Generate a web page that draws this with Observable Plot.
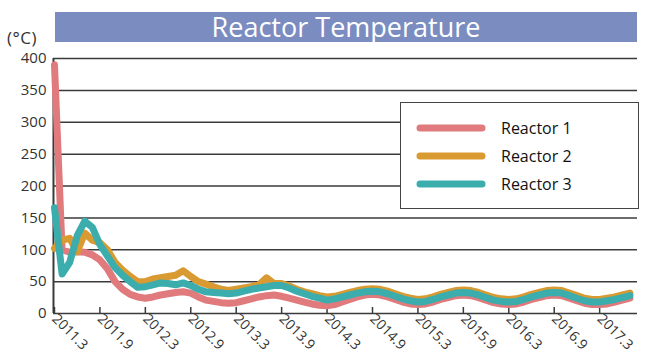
<!DOCTYPE html>
<html><head><meta charset="utf-8">
<script src="https://cdn.jsdelivr.net/npm/d3@7"></script>
<script src="https://cdn.jsdelivr.net/npm/@observablehq/plot@0.6"></script>
<style>
body{margin:0;background:#fff;}
#wrap{position:relative;width:650px;height:356px;font-family:"Open Sans",sans-serif;overflow:hidden;}
#title{position:absolute;left:55px;top:12px;width:582px;height:30px;background:#7b8cc1;color:#fff;font-size:27px;line-height:30px;text-align:center;}
#unit{position:absolute;left:7px;top:26px;font-size:17px;letter-spacing:0.5px;color:#333;}
#legend{position:absolute;left:400px;top:102px;width:237px;height:105px;background:#fff;border:1px solid #444;}
</style></head>
<body><div id="wrap"><div id="chart"></div><div id="title">Reactor Temperature</div><div id="unit">(°C)</div><div id="legend"></div></div>
<script>
const titleText = "Reactor Temperature";
const unitText = "(°C)";
const seriesNames = ["Reactor 1", "Reactor 2", "Reactor 3"];
const seriesColors = ["#e07a7c", "#d99a32", "#3badad"];
// months since March 2011
const months = [0,1,2,3,4,5,6,7,8,9,10,11,12,13,14,15,16,17,18,19,20,21,22,23,24,25,26,27,28,29,30,31,32,33,34,35,36,37,38,39,40,41,42,43,44,45,46,47,48,49,50,51,52,53,54,55,56,57,58,59,60,61,62,63,64,65,66,67,68,69,70,71,72,73,74,75,76];
const reactor1 = [390,100,96,97,96,92,84,70,50,38,30,26,24,26,29,31,33,34,32,26,21,19,17,16,17,20,23,26,28,29,27,24,21,18,15,13,12,14,18,22,26,29,30,29,26,22,18,15,14,15,18,22,25,28,29,28,25,21,17,15,14,15,18,22,25,28,29,28,24,20,16,14,14,15,18,21,24];
const reactor2 = [102,115,118,97,126,115,111,100,80,68,58,50,50,54,56,58,60,67,58,50,46,42,38,36,38,40,42,45,56,47,47,43,38,34,31,28,26,27,30,33,36,38,39,38,35,31,27,24,22,23,26,30,33,36,37,36,33,29,25,23,22,23,26,30,33,36,37,36,32,28,24,22,22,24,26,29,32];
const reactor3 = [166,62,80,122,145,135,108,90,72,60,50,41,42,45,48,47,45,48,44,38,34,33,32,31,32,35,38,40,42,44,44,40,35,31,27,24,21,23,26,29,32,34,35,34,31,27,23,20,18,19,22,26,29,32,33,32,29,25,21,19,18,19,22,26,29,32,33,32,28,24,20,18,18,20,22,25,28];
const yTicks = [0,50,100,150,200,250,300,350,400];
const xTickMonths = [0,6,12,18,24,30,36,42,48,54,60,66,72];
const xTickLabels = ["2011.3","2011.9","2012.3","2012.9","2013.3","2013.9","2014.3","2014.9","2015.3","2015.9","2016.3","2016.9","2017.3"];

const seriesValues = [reactor1, reactor2, reactor3];
const rows = [];
seriesNames.forEach((name, s) => months.forEach((m, i) => rows.push({name, month: m, temp: seriesValues[s][i]})));
const labelByMonth = new Map(xTickMonths.map((m, i) => [m, xTickLabels[i]]));

const chart = Plot.plot({
  width: 650, height: 356,
  marginLeft: 53, marginRight: 13, marginTop: 58, marginBottom: 43,
  style: {fontFamily: "'Open Sans', sans-serif", color: "#333", background: "#fff"},
  x: {domain: [-0.13, 77]},
  y: {domain: [0, 400]},
  color: {domain: seriesNames, range: seriesColors},
  marks: [
    Plot.ruleY(yTicks, {stroke: "#3a3a3a", strokeWidth: 1.5}),
    Plot.ruleX([0], {dx: -1, stroke: "#3a3a3a", strokeWidth: 2}),
    Plot.axisY({ticks: yTicks, tickSize: 0, tickPadding: 7, label: null, fontSize: 15}),
    Plot.axisX({ticks: xTickMonths, tickSize: 0, tickPadding: 3, tickRotate: 45, tickFormat: d => labelByMonth.get(d), label: null, fontSize: 14}),
    Plot.axisX({ticks: xTickMonths, tickSize: -6, tickFormat: () => "", label: null, stroke: "#3a3a3a", strokeWidth: 1.5}),
    Plot.line(rows, {x: "month", y: "temp", z: "name", stroke: "name", strokeWidth: 7, strokeLinejoin: "round", strokeLinecap: "round"})
  ]
});
document.getElementById("chart").appendChild(chart);
document.getElementById("title").textContent = titleText;
document.getElementById("unit").textContent = unitText;

const leg = d3.select("#legend").append("svg").attr("width", 237).attr("height", 105);
seriesNames.forEach((name, i) => {
  const y = 25 + i * 28;
  leg.append("line").attr("x1", 19).attr("x2", 81).attr("y1", y).attr("y2", y)
    .attr("stroke", seriesColors[i]).attr("stroke-width", 7).attr("stroke-linecap", "round");
  leg.append("text").attr("x", 100).attr("y", y).attr("dy", "0.35em")
    .attr("font-size", 16).attr("fill", "#111").attr("font-family", "'Open Sans', sans-serif").text(name);
});
</script>
</body></html>
